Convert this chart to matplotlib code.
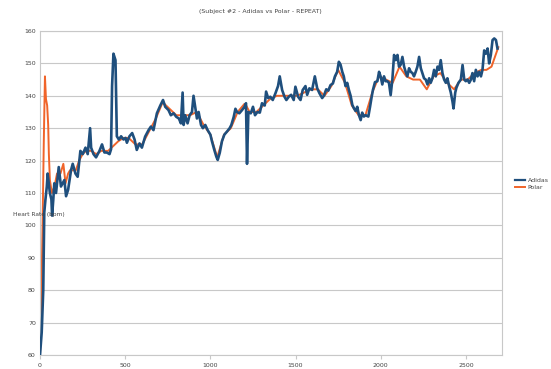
import matplotlib.pyplot as plt
from matplotlib.lines import Line2D

# Adidas readings (seconds, bpm)
adidas_t = [0, 10, 19, 25, 32, 40, 45, 58, 67, 71, 78, 84, 94, 110, 123, 143, 153, 165,
            182, 192, 208, 221, 237, 251, 267, 280, 294, 300, 314, 329, 349, 364, 378,
            392, 408, 417, 423, 431, 443, 451, 463, 476, 490, 502, 510, 525, 541, 555,
            568, 584, 598, 617, 637, 651, 666, 686, 706, 722, 735, 754, 768, 784, 800,
            815, 827, 837, 843, 852, 866, 878, 892, 901, 911, 921, 931, 945, 956, 970,
            984, 1000, 1009, 1023, 1035, 1043, 1055, 1068, 1082, 1098, 1113, 1123, 1137,
            1147, 1156, 1170, 1186, 1200, 1209, 1215, 1223, 1237, 1250, 1262, 1276, 1290,
            1303, 1319, 1327, 1339, 1352, 1366, 1382, 1397, 1407, 1421, 1435, 1446, 1460,
            1474, 1489, 1499, 1515, 1529, 1542, 1558, 1568, 1581, 1597, 1613, 1627, 1640,
            1656, 1666, 1680, 1692, 1705, 1719, 1731, 1744, 1754, 1764, 1774, 1783, 1793,
            1803, 1813, 1823, 1833, 1842, 1852, 1862, 1872, 1882, 1891, 1901, 1911, 1927,
            1937, 1946, 1954, 1966, 1980, 1990, 1999, 2009, 2019, 2029, 2039, 2048, 2058,
            2068, 2078, 2088, 2098, 2107, 2117, 2127, 2137, 2146, 2156, 2166, 2176, 2186,
            2195, 2205, 2215, 2225, 2235, 2244, 2254, 2264, 2274, 2284, 2293, 2303, 2313,
            2323, 2333, 2342, 2352, 2362, 2372, 2382, 2391, 2401, 2411, 2421, 2427, 2437,
            2444, 2456, 2470, 2480, 2490, 2499, 2509, 2519, 2529, 2538, 2548, 2558, 2568,
            2578, 2588, 2597, 2607, 2617, 2627, 2636, 2646, 2656, 2666, 2676, 2685]
adidas_hr = [60, 67, 80, 104, 108, 112, 116, 110, 108, 103, 108, 113, 110, 118, 112, 114, 109, 111,
             117, 119, 116, 115, 123, 122, 124, 122, 130, 124, 122, 121, 123, 125, 122.5,
             122.5, 122, 123.5, 143, 153, 151, 127.5, 126.5, 127.5, 126.5, 127, 125.5, 127.5, 128.5, 126.5,
             123.3, 125.3, 124, 127.4, 129.4, 130.5, 129.4, 134.6, 137, 138.7, 136.6, 135.6, 134, 134.6, 133.5,
             133, 131.5, 141, 131, 134, 131.5, 134, 135, 140, 136.5, 133, 135, 131, 130, 131,
             129.4, 128, 126, 123.3, 121.2, 120.2, 122.4, 126, 128, 129, 130, 131, 133.5,
             136, 135, 134.6, 135.6, 136.6, 137.7, 119, 135, 134.6, 136.6, 134, 135, 134.8,
             137.7, 137, 141.3, 139.3, 139.7, 138.7, 140.8, 143, 146, 141.8, 139.7, 138.7, 139.7,
             140.3, 138.7, 142.8, 139.7, 138.7, 141.8, 143, 140.3, 142.3, 141.8, 146, 142.3, 140.8,
             139.3, 140, 142, 141.6, 143.3, 143.8, 146, 147.4, 150.5, 149.6, 147.4, 146, 143,
             144, 141.8, 140, 137.2, 136.2, 135.3, 136.6, 134, 132.5, 134.8, 133.6, 134, 133.6,
             136.6, 139.5, 141.8, 144.2, 144.5, 147.4, 146, 143.5, 146, 144.5, 144.5, 144, 140.2,
             145, 152.6, 151, 152.6, 149, 149.6, 152, 149, 147.4, 146, 148.5, 147.4, 147,
             146, 147.4, 149, 152, 148.5, 147, 145.4, 145, 143.5, 145.4, 144, 145.4, 148,
             146, 149, 148, 151, 147, 145, 144, 145.4, 143, 141, 138.2, 136.1, 141,
             142.5, 144, 145, 149.5, 145, 144.5, 145, 144, 145, 147, 144.5, 148, 146,
             147.4, 146, 148, 154, 153, 154.6, 150, 152.6, 157.2, 157.7, 157.2, 154.6]

# Polar readings (seconds, bpm)
polar_t = [0, 8, 15, 22, 29, 35, 42, 48, 52, 58, 70, 85, 100, 120, 137, 150, 165, 176, 190,
           210, 230, 250, 270, 300, 330, 360, 400, 420, 440, 460, 490, 520, 560, 600, 640,
           680, 720, 760, 800, 840, 880, 920, 960, 1000, 1040, 1080, 1120, 1160, 1200, 1210,
           1230, 1270, 1310, 1350, 1390, 1430, 1470, 1510, 1550, 1590, 1630, 1670, 1710, 1750,
           1790, 1830, 1870, 1910, 1950, 1990, 2030, 2070, 2110, 2150, 2190, 2230, 2270, 2310,
           2350, 2390, 2430, 2470, 2510, 2550, 2590, 2620, 2650, 2670, 2690]
polar_hr = [60, 78, 100, 125, 146, 139, 137, 131, 122, 114, 110, 112, 116, 116, 119, 113, 116, 117, 117,
            117, 120, 122, 123, 123, 122, 123, 123, 124, 125, 126, 127, 127, 125, 125, 129,
            133, 138, 136, 134, 134, 134, 135, 131, 128, 121, 128, 130, 135, 137.5, 137,
            135, 135, 137, 139, 140, 140, 140, 140, 141, 142, 142, 140, 143, 148,
            144, 137, 134, 134, 141, 146, 145, 144, 149, 146, 145, 145, 142, 146,
            147, 144, 142, 145, 145, 147, 148, 148, 149, 152, 155]

blue = '#1f4f7d'
orange = '#f0642a'
grey_txt = '#444444'

fig = plt.figure(figsize=(5.51, 3.69), dpi=100)
ax = fig.add_axes([0.0726, 0.038, 0.838, 0.878])

ax.plot(polar_t, polar_hr, color=orange, lw=1.4, zorder=2)
ax.plot(adidas_t, adidas_hr, color=blue, lw=1.9, zorder=3)

ax.set_xlim(0, 2710)
ax.set_ylim(60, 160)
ax.set_xticks([0, 500, 1000, 1500, 2000, 2500])
ax.set_yticks(range(60, 161, 10))
ax.yaxis.grid(True, color='#c8c8c8', lw=0.8)
ax.set_axisbelow(True)
ax.tick_params(axis='both', labelsize=4.5, colors=grey_txt, length=0, pad=3)
ax.tick_params(axis='x', length=3, color='#c8c8c8', direction='out')
for s in ax.spines.values():
    s.set_color('#c8c8c8')
    s.set_linewidth(0.8)

fig.text(0.472, 0.968, '(Subject #2 - Adidas vs Polar - REPEAT)', ha='center', va='center',
         fontsize=4.5, color=grey_txt)
fig.text(0.024, 0.418, 'Heart Rate (bpm)', ha='left', va='center', fontsize=4.2, color=grey_txt)

handles = [Line2D([], [], color=blue, lw=1.6), Line2D([], [], color=orange, lw=1.4)]
fig.legend(handles, ['Adidas', 'Polar'], loc='center left', bbox_to_anchor=(0.925, 0.502),
           frameon=False, fontsize=4.5, handlelength=1.6, handletextpad=0.4, labelspacing=0.3,
           labelcolor=grey_txt)

fig.savefig('out.png', dpi=100)
